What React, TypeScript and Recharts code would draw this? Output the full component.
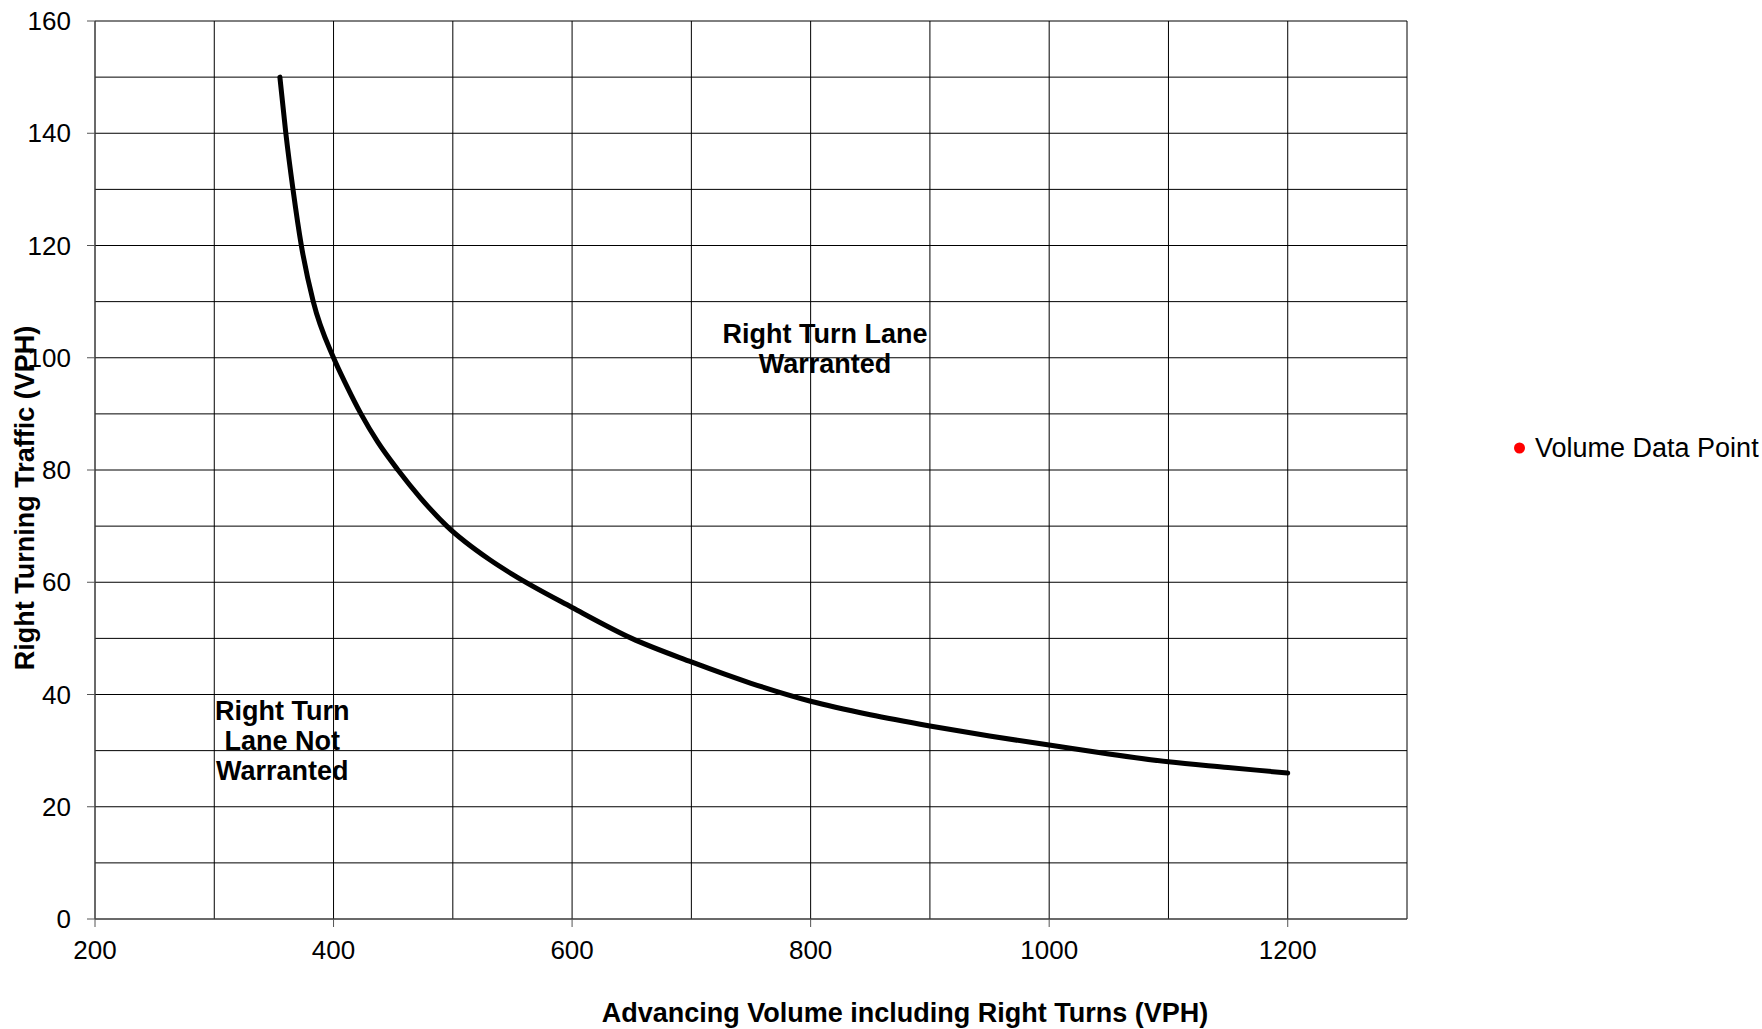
import React from "react";
import { CartesianGrid, ComposedChart, Line, Scatter, XAxis, YAxis } from "recharts";

// warrant curve
const volumeX = [355, 360, 366, 373, 383, 400, 411, 423, 437, 454, 473, 495, 531, 550, 600, 650, 700, 750, 800, 850, 900, 950, 1000, 1050, 1100, 1150, 1200];
const rightTurnY = [150, 140, 130, 120, 110, 100, 95, 90, 85, 80, 75, 70, 64, 61.4, 55.5, 50, 45.8, 42, 38.8, 36.4, 34.4, 32.6, 31, 29.4, 28, 27, 26];

const xTicks = [200, 300, 400, 500, 600, 700, 800, 900, 1000, 1100, 1200, 1300];
const yTicks = [0, 10, 20, 30, 40, 50, 60, 70, 80, 90, 100, 110, 120, 130, 140, 150, 160];

const notes = [
  { x: 812, y: 102.6, lines: ["Right Turn Lane", "Warranted"] },
  { x: 357, y: 35.4, lines: ["Right Turn", "Lane Not", "Warranted"] },
];

const curve = volumeX.map((x, i) => ({ x, y: rightTurnY[i] }));

const FONT = '"Liberation Sans", Arial, sans-serif';
const PLOT_LEFT = 95;
const PLOT_BOTTOM = 919;

function YTick(props: any) {
  const { y, payload } = props;
  if (payload.value % 20 !== 0) return <g />;
  return (
    <g>
      <line x1={PLOT_LEFT - 8} x2={PLOT_LEFT} y1={y} y2={y} stroke="#555" />
      <text x={71} y={y} dy={9} textAnchor="end" fontSize={26} fontFamily={FONT} fill="#000">
        {payload.value}
      </text>
    </g>
  );
}

function XTick(props: any) {
  const { x, payload } = props;
  if (payload.value % 200 !== 0) return <g />;
  return (
    <g>
      <line x1={x} x2={x} y1={PLOT_BOTTOM} y2={PLOT_BOTTOM + 8} stroke="#555" />
      <text x={x} y={959} textAnchor="middle" fontSize={26} fontFamily={FONT} fill="#000">
        {payload.value}
      </text>
    </g>
  );
}

function NoteShape(props: any) {
  const { cx, cy, payload } = props;
  return (
    <text x={cx} y={cy} textAnchor="middle" fontSize={27} fontWeight="bold" fontFamily={FONT} fill="#000">
      {payload.lines.map((l: string, i: number) => (
        <tspan key={i} x={cx} dy={i === 0 ? 0 : 30}>
          {l}
        </tspan>
      ))}
    </text>
  );
}

export default function App() {
  return (
    <div style={{ position: "relative", width: 1762, height: 1029, background: "#fff" }}>
      <style>{"body{margin:0}"}</style>
      <ComposedChart width={1762} height={1029} margin={{ top: 21, right: 355, left: 0, bottom: 0 }}>
        <CartesianGrid stroke="#000" strokeWidth={1} />
        <XAxis
          dataKey="x"
          type="number"
          domain={[200, 1300]}
          ticks={xTicks}
          height={110}
          axisLine={{ stroke: "#555" }}
          tickLine={false}
          tick={<XTick />}
          interval={0}
        />
        <YAxis
          dataKey="y"
          type="number"
          domain={[0, 160]}
          ticks={yTicks}
          width={95}
          axisLine={{ stroke: "#555" }}
          tickLine={false}
          tick={<YTick />}
          interval={0}
        />
        <Line
          data={curve}
          dataKey="y"
          type="monotone"
          stroke="#000"
          strokeWidth={5}
          strokeLinecap="round"
          dot={false}
          activeDot={false}
          isAnimationActive={false}
        />
        <Scatter data={notes} dataKey="y" shape={<NoteShape />} isAnimationActive={false} />
      </ComposedChart>

      <div
        style={{
          position: "absolute",
          left: 25,
          top: 498,
          transform: "translate(-50%, -50%) rotate(-90deg)",
          whiteSpace: "nowrap",
          fontFamily: FONT,
          fontWeight: "bold",
          fontSize: 27,
          lineHeight: 1,
        }}
      >
        Right Turning Traffic (VPH)
      </div>
      <div
        style={{
          position: "absolute",
          left: 905,
          top: 1013,
          transform: "translate(-50%, -50%)",
          whiteSpace: "nowrap",
          fontFamily: FONT,
          fontWeight: "bold",
          fontSize: 27,
          lineHeight: 1,
        }}
      >
        Advancing Volume including Right Turns (VPH)
      </div>
      <div
        style={{
          position: "absolute",
          left: 1514,
          top: 448,
          transform: "translateY(-50%)",
          display: "flex",
          alignItems: "center",
          whiteSpace: "nowrap",
          fontFamily: FONT,
          fontSize: 27,
          lineHeight: 1,
        }}
      >
        <span style={{ width: 11, height: 11, borderRadius: "50%", background: "#ff0000", marginRight: 10 }} />
        Volume Data Point
      </div>
    </div>
  );
}
